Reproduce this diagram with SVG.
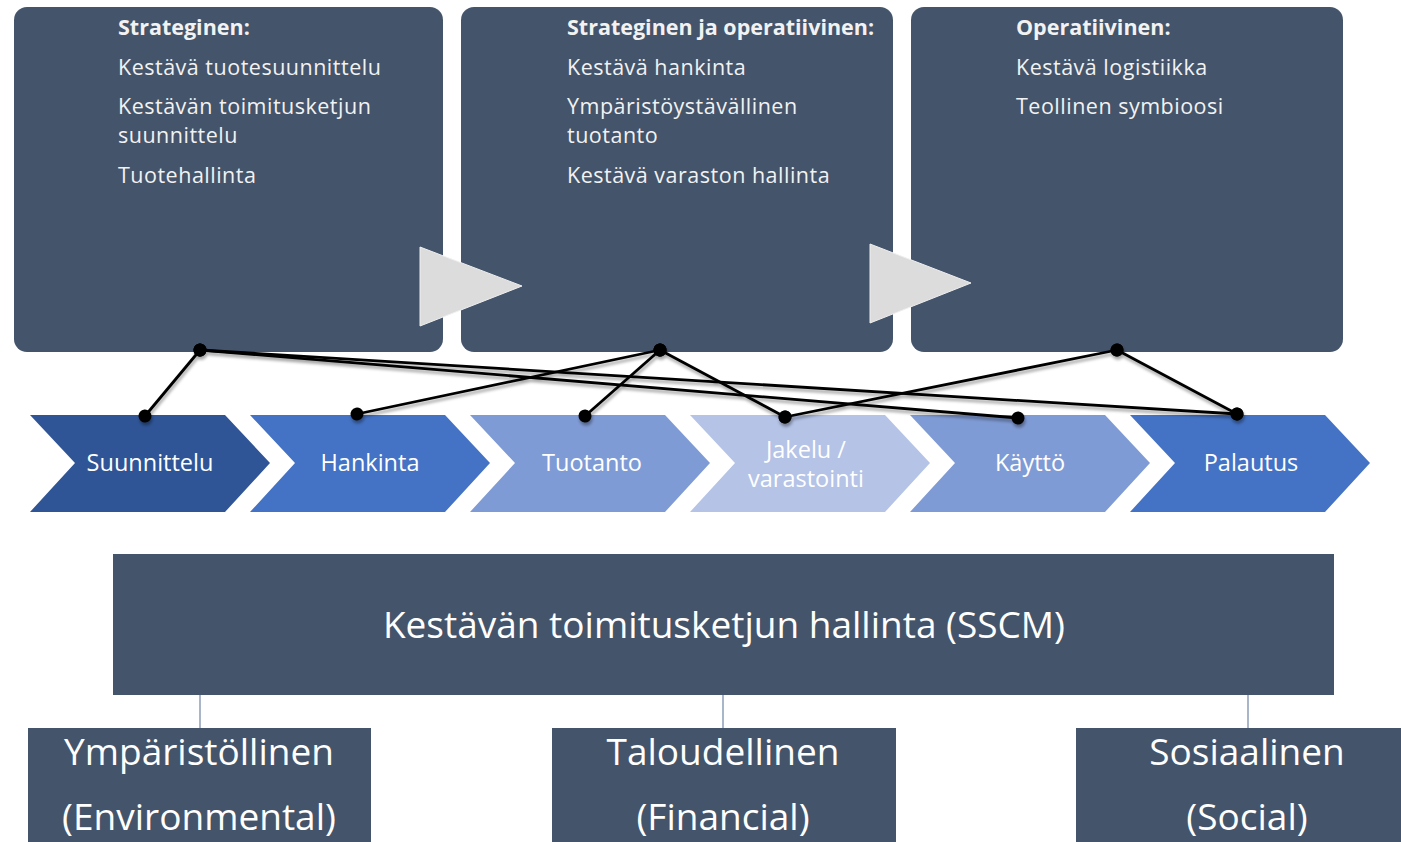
<svg xmlns="http://www.w3.org/2000/svg" width="1401" height="842" viewBox="0 0 1401 842">
<style>
.box{fill:#44546a;}
.tt{font-family:'Open Sans','DejaVu Sans',sans-serif;font-size:21.5px;fill:#f2f2f2;letter-spacing:0.5px;}
.tb{font-weight:bold;letter-spacing:0px;}
.cl{font-family:'Open Sans','DejaVu Sans',sans-serif;font-size:23.5px;fill:#ffffff;text-anchor:middle;}
.bl{font-family:'Open Sans','DejaVu Sans',sans-serif;font-size:37px;fill:#ffffff;text-anchor:middle;}
.tri{fill:#dcdcdc;stroke:#efefef;stroke-width:1;}
.con{stroke:#000;stroke-width:2.8;fill:none;marker-start:url(#dot);marker-end:url(#dot);}
.vl{stroke:#a9b6ca;stroke-width:2;}
</style>
<defs>
<marker id="dot" markerUnits="userSpaceOnUse" markerWidth="16" markerHeight="16" refX="8" refY="8" orient="auto">
<circle cx="8" cy="8" r="6.5" fill="#000"/>
</marker>
<filter id="sh" x="-5%" y="-20%" width="110%" height="160%">
<feDropShadow dx="1" dy="3" stdDeviation="1.5" flood-color="#000" flood-opacity="0.35"/>
</filter>
</defs>
<rect width="1401" height="842" fill="#ffffff"/>

<g id="box-strateginen">
<rect class="box" x="14" y="7" width="429" height="345" rx="13"/>
<text class="tt tb" x="118" y="35">Strateginen:</text>
<text class="tt" x="118" y="75">Kestävä tuotesuunnittelu</text>
<text class="tt" x="118" y="114">Kestävän toimitusketjun</text>
<text class="tt" x="118" y="143">suunnittelu</text>
<text class="tt" x="118" y="183">Tuotehallinta</text>
</g>
<g id="box-strat-oper">
<rect class="box" x="461" y="7" width="432" height="345" rx="13"/>
<text class="tt tb" x="567" y="35">Strateginen ja operatiivinen:</text>
<text class="tt" x="567" y="75">Kestävä hankinta</text>
<text class="tt" x="567" y="114">Ympäristöystävällinen</text>
<text class="tt" x="567" y="143">tuotanto</text>
<text class="tt" x="567" y="183">Kestävä varaston hallinta</text>
</g>
<g id="box-operatiivinen">
<rect class="box" x="911" y="7" width="432" height="345" rx="13"/>
<text class="tt tb" x="1016" y="35">Operatiivinen:</text>
<text class="tt" x="1016" y="75">Kestävä logistiikka</text>
<text class="tt" x="1016" y="114">Teollinen symbioosi</text>
</g>
<g id="flow-arrows">
<polygon class="tri" points="420,247 420,326 522,286"/>
<polygon class="tri" points="870,244 870,323 971,283"/>
</g>

<g id="chev-suunnittelu">
<polygon fill="#2f5597" points="30,415 225,415 270,463 225,512 30,512 75,463"/>
<text class="cl" x="150" y="471">Suunnittelu</text>
</g>
<g id="chev-hankinta">
<polygon fill="#4472c4" points="250,415 445,415 490,463 445,512 250,512 295,463"/>
<text class="cl" x="370" y="471">Hankinta</text>
</g>
<g id="chev-tuotanto">
<polygon fill="#7f9bd5" points="470,415 665,415 710,463 665,512 470,512 515,463"/>
<text class="cl" x="592" y="471">Tuotanto</text>
</g>
<g id="chev-jakelu">
<polygon fill="#b4c3e6" points="690,415 885,415 930,463 885,512 690,512 735,463"/>
<text class="cl" x="806" y="458">Jakelu /</text>
<text class="cl" x="806" y="487">varastointi</text>
</g>
<g id="chev-kaytto">
<polygon fill="#7f9bd5" points="910,415 1105,415 1150,463 1105,512 910,512 955,463"/>
<text class="cl" x="1030" y="471">Käyttö</text>
</g>
<g id="chev-palautus">
<polygon fill="#4472c4" points="1130,415 1325,415 1370,463 1325,512 1130,512 1175,463"/>
<text class="cl" x="1251" y="471">Palautus</text>
</g>

<g id="connectors" filter="url(#sh)">
<line class="con" x1="200" y1="350" x2="145" y2="416"/>
<line class="con" x1="200" y1="350" x2="1018" y2="418"/>
<line class="con" x1="200" y1="350" x2="1237" y2="414"/>
<line class="con" x1="660" y1="350" x2="357" y2="414"/>
<line class="con" x1="660" y1="350" x2="585" y2="416"/>
<line class="con" x1="660" y1="350" x2="785" y2="417"/>
<line class="con" x1="1117" y1="350" x2="785" y2="417"/>
<line class="con" x1="1117" y1="350" x2="1237" y2="414"/>
</g>

<g id="tree-lines">
<line class="vl" x1="200" y1="695" x2="200" y2="728"/>
<line class="vl" x1="723" y1="695" x2="723" y2="728"/>
<line class="vl" x1="1248" y1="695" x2="1248" y2="728"/>
</g>
<g id="sscm">
<rect class="box" x="113" y="554" width="1221" height="141"/>
<text class="bl" x="724" y="638">Kestävän toimitusketjun hallinta (SSCM)</text>
</g>
<g id="ymparistollinen">
<rect class="box" x="28" y="728" width="343" height="120"/>
<text class="bl" x="199" y="765">Ympäristöllinen</text>
<text class="bl" x="199" y="830">(Environmental)</text>
</g>
<g id="taloudellinen">
<rect class="box" x="552" y="728" width="344" height="120"/>
<text class="bl" x="723" y="765">Taloudellinen</text>
<text class="bl" x="723" y="830">(Financial)</text>
</g>
<g id="sosiaalinen">
<rect class="box" x="1076" y="728" width="330" height="120"/>
<text class="bl" x="1247" y="765">Sosiaalinen</text>
<text class="bl" x="1247" y="830">(Social)</text>
</g>
</svg>
